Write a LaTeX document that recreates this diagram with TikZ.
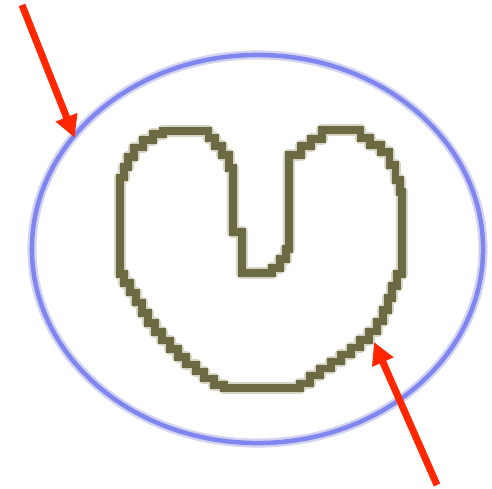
\documentclass[tikz,border=0pt]{standalone}
\usepackage{tikz}
\usetikzlibrary{positioning,arrows.meta,shapes.geometric}
\definecolor{ringcore}{RGB}{128,134,240}
\definecolor{ringhalo}{RGB}{212,212,240}
\definecolor{heartcore}{RGB}{108,106,66}
\definecolor{hearthalo}{RGB}{214,212,196}
\definecolor{pointer}{RGB}{255,38,0}

\begin{document}
\begin{tikzpicture}[
  x=0.025cm, y=-0.025cm,
  ring/.style={ellipse, inner sep=0pt, minimum width=11.275cm, minimum height=9.7cm},
  ringglow/.style={ring, draw=ringhalo, line width=6.5pt},
  ringline/.style={ring, draw=ringcore, line width=3.2pt},
  heartglow/.style={draw=hearthalo, line width=8.5pt, line join=round},
  heartline/.style={draw=heartcore, line width=5.4pt, line join=miter},
  pointer/.style={draw=pointer, line width=5pt, -{Triangle[length=0.55cm, width=0.55cm]}},
]
\useasboundingbox (0,0) rectangle (492,488);

% ---- outer ring ----
\node[ringglow] (ringbg) at (257.5,249) {};
\node[ringline] (ring) at (257.5,249) {};

% ---- heart outline (stepped, like the pixel trace) ----
\def\heart{(300,388) -- (224,388) -- (224,385) -| (214,378.5) -| (204,371.5)
  -| (196,364.5) -| (186,357) -| (178,349) -| (170,340.5) -| (162,332) -| (155,323)
  -| (148,313) -| (142,302.5) -| (136,292.5) -| (130,283) -| (124,274) -| (120,270)
  -- (120,177.5) -| (124,167) -| (128,157) -| (134,147.5) -| (143,140) -| (153,134)
  -| (163,131) -- (208.5,131) |- (215,138) |- (222,146) |- (229,155) |- (233,168)
  -- (233,232) -- (242,232) -- (242,273) -- (272,273) |- (280,268) |- (286,259)
  |- (289,249) -- (289,155) -| (301,146) -| (311,139) -| (322,130) -- (360.5,130)
  |- (370,138) |- (381,145) |- (389.5,152) |- (395.5,165) |- (400,180) |- (402,192)
  -- (402,274) -| (397,286) -| (392,298) -| (388,310) -| (383,321.5) -| (377,331.5)
  -| (369,340) -| (360,347.5) -| (351,354.5) -| (341,361.5) -| (331,368.5)
  -| (320,375.5) -| (310,383.5) -| (300,388) -- cycle}
\path[heartglow] \heart;
\path[heartline] \heart;

% ---- pointers ----
\coordinate (p1) at (22,5);
\coordinate (p2) at (437,485);
\coordinate (h2) at (374,342);
\draw[pointer, shorten >=-3pt] (p1) -- (ring.148);
\draw[pointer] (p2) -- (h2);

\end{tikzpicture}
\end{document}
